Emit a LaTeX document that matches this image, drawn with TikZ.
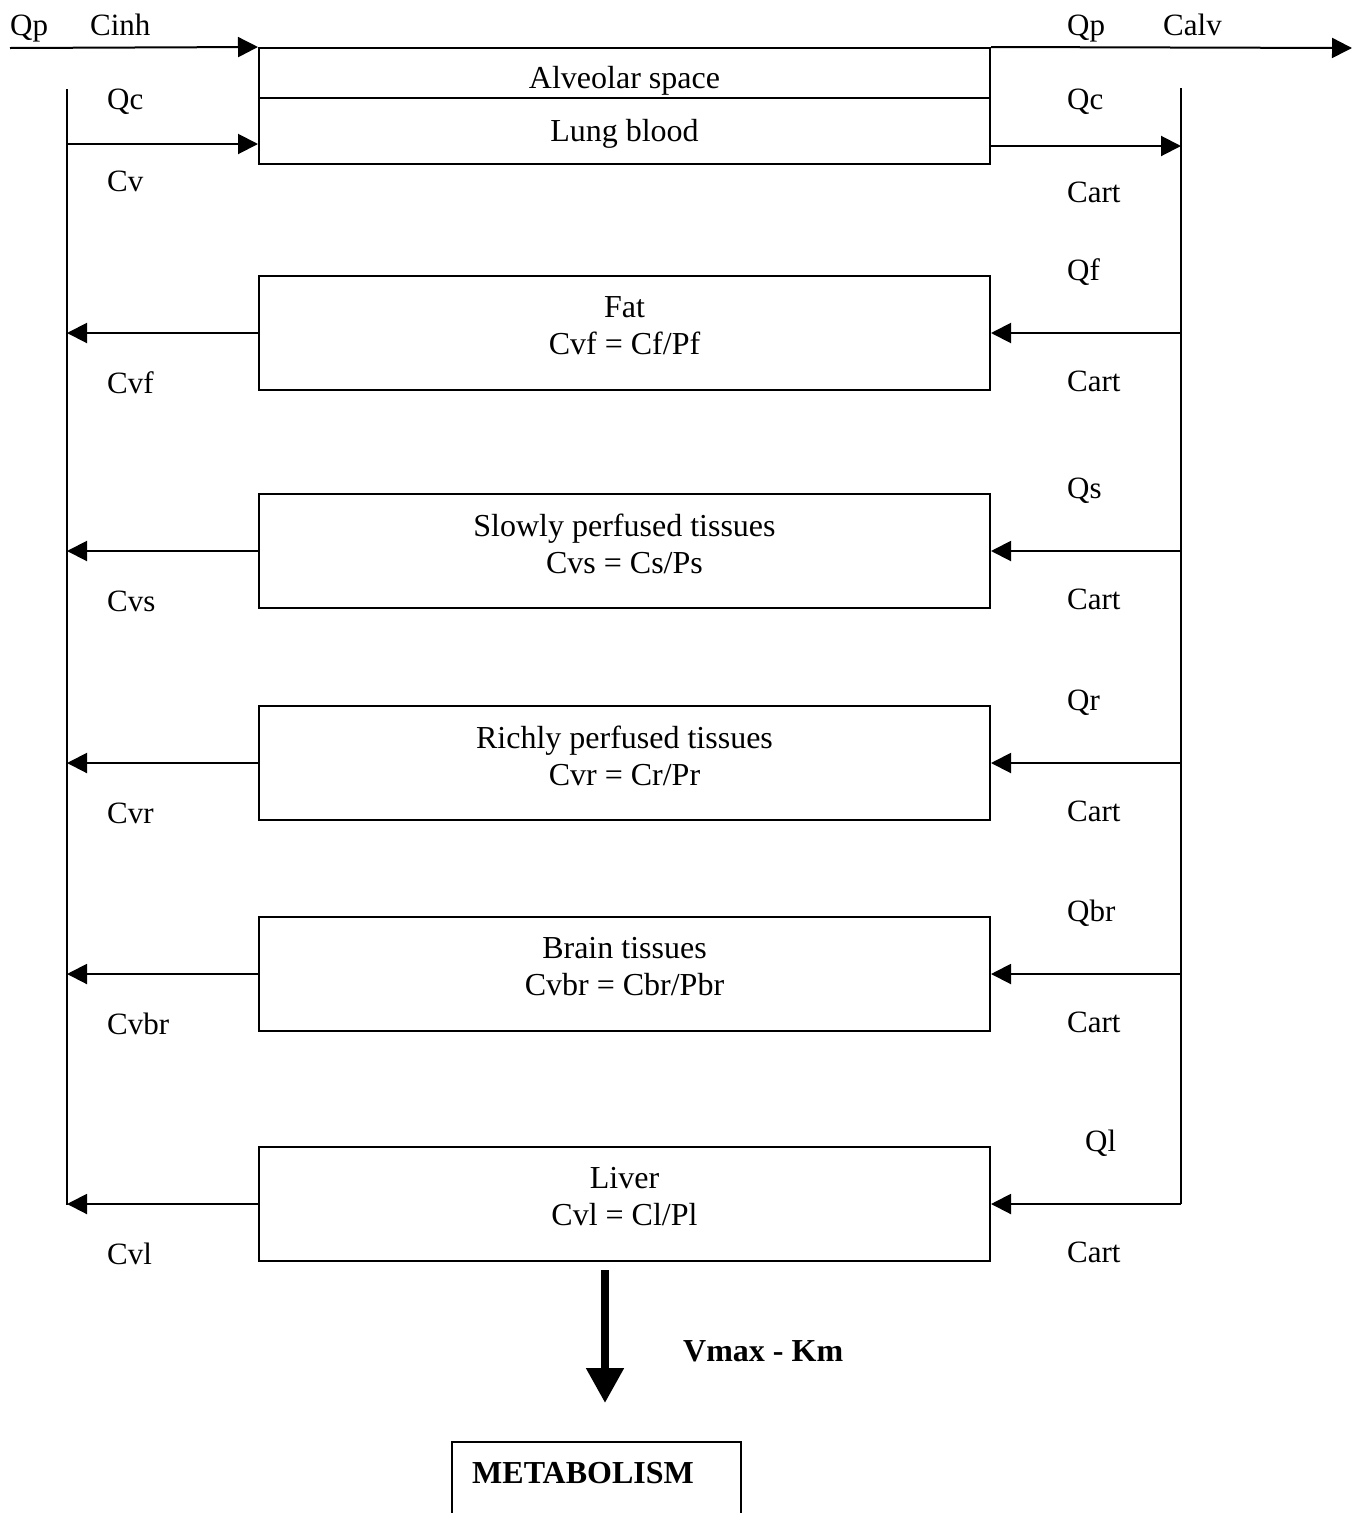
\documentclass[tikz,border=0pt]{standalone}
\usepackage{fontspec}
\setmainfont{Liberation Serif}
\usetikzlibrary{arrows.meta}
\tikzset{
  caja/.style={draw, line width=2pt, minimum width=731pt, inner sep=0pt, align=center,
    font=\fontsize{32}{37}\selectfont},
  flujo/.style={line width=2pt, -{Triangle[length=20pt,width=20pt]}},
  etiq/.style={inner sep=0pt, anchor=base west},
}
\begin{document}
\begin{tikzpicture}[x=1pt, y=-1pt, font=\fontsize{31}{37}\selectfont]
  \useasboundingbox (0,0) rectangle (1360,1513);

  % Pulmon
  \node[caja, minimum height=50pt, text height=30pt, text depth=0pt] (alv) at (624.5,73) {Alveolar space};
  \node[caja, minimum height=66pt, text height=20pt, text depth=0pt] (sang) at (624.5,131) {Lung blood};

  % Venas y arterias
  \coordinate (venA) at (67,89);
  \coordinate (venB) at (67,1205);
  \coordinate (artA) at (1181,88);
  \coordinate (artB) at (1181,1204);
  \draw[line width=2pt] (venA) -- (venB);
  \draw[line width=2pt] (artA) -- (artB);

  % Aire
  \coordinate (inh) at (10,48);
  \coordinate (exh) at (1352,48);
  \draw[flujo] (inh) -- (alv.north west);
  \draw[flujo] (alv.north east) -- (exh);
  \node[etiq] (qpin) at (10,35) {Qp};
  \node[etiq] (cinh) at (90,35) {Cinh};
  \node[etiq] (qpout) at (1067,35) {Qp};
  \node[etiq] (calv) at (1163,35) {Calv};

  % Sangre al pulmon
  \coordinate (cv) at (67,144);
  \coordinate (ca) at (1181,146);
  \draw[flujo] (cv) -- (cv -| sang.west);
  \draw[flujo] (ca -| sang.east) -- (ca);
  \node[etiq] (qcin) at (107,109) {Qc};
  \node[etiq] (cvin) at (107,191) {Cv};
  \node[etiq] (qcout) at (1067,109) {Qc};
  \node[etiq] (cart) at (1067,202) {Cart};

  % Organos
  \foreach \nom/\y/\txt/\q/\qx/\cvl in {
      fat/333/{Fat\\Cvf = Cf/Pf}/Qf/1067/Cvf,
      slow/551/{Slowly perfused tissues\\Cvs = Cs/Ps}/Qs/1067/Cvs,
      rich/763/{Richly perfused tissues\\Cvr = Cr/Pr}/Qr/1067/Cvr,
      brain/974/{Brain tissues\\Cvbr = Cbr/Pbr}/Qbr/1067/Cvbr,
      liver/1204/{Liver\\Cvl = Cl/Pl}/Ql/1085/Cvl}{
    \node[caja, minimum height=114pt, text depth=15pt] (\nom) at (624.5,\y) {\txt};
    \draw[flujo] (\nom.east -| artA) -- (\nom.east);
    \draw[flujo] (\nom.west) -- (\nom.west -| venA);
    \node[etiq] (q\nom) at (\qx,\y-53) {\q};
    \node[etiq] (a\nom) at (1067,\y+58) {Cart};
    \node[etiq] (v\nom) at (107,\y+60) {\cvl};
  }

  % Metabolismo
  \node[draw, line width=2pt, anchor=north west, minimum width=289pt,
        minimum height=120pt, inner sep=0pt] (metab) at (451,1441) {};
  \node[etiq, font=\fontsize{32}{37}\selectfont\bfseries] (metabtxt) at (472,1483) {METABOLISM};
  \draw[line width=8pt, -{Triangle[length=35pt,width=36pt]}, shorten <=8pt, shorten >=38pt]
    ([xshift=-19.5pt]liver.south) -- ([xshift=-19.5pt]liver.south |- metab.north);
  \node[etiq, font=\fontsize{32}{37}\selectfont\bfseries] (vmax) at (683,1361) {Vmax - Km};
\end{tikzpicture}
\end{document}
